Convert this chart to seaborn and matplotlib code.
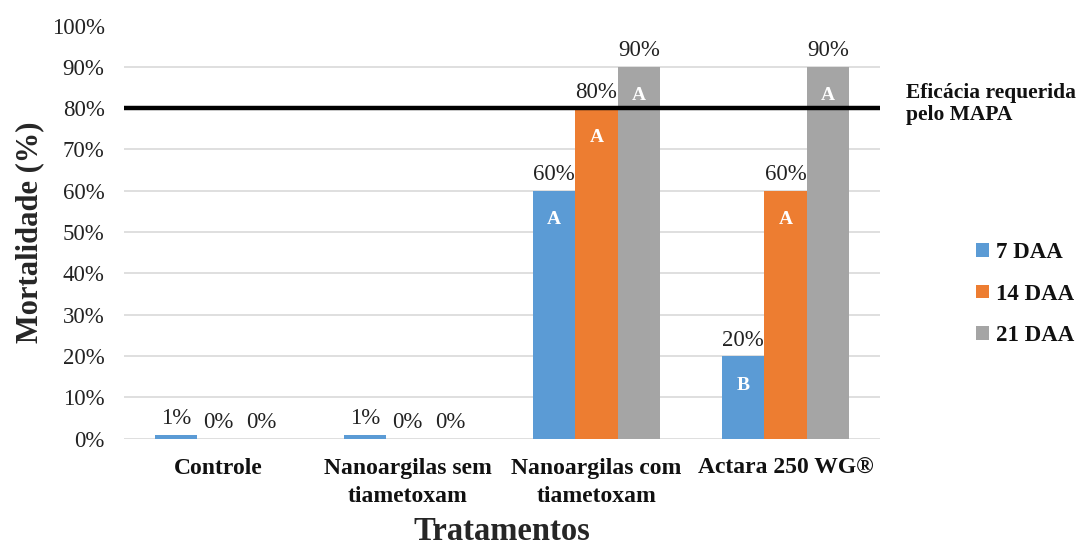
import matplotlib
matplotlib.use("Agg")
import matplotlib.pyplot as plt
import seaborn as sns
import pandas as pd

categories = ["Controle", "Nanoargilas sem\ntiametoxam", "Nanoargilas com\ntiametoxam", "Actara 250 WG®"]
series = ["7 DAA", "14 DAA", "21 DAA"]
values_7 = [1, 1, 60, 20]
values_14 = [0, 0, 80, 60]
values_21 = [0, 0, 90, 90]
letters_7 = ["", "", "A", "B"]
letters_14 = ["", "", "A", "A"]
letters_21 = ["", "", "A", "A"]
threshold = 80
threshold_label = "Eficácia requerida\npelo MAPA"
yticks = [0, 10, 20, 30, 40, 50, 60, 70, 80, 90, 100]

colors = ["#5B9BD5", "#ED7D31", "#A5A5A5"]

rows = []
for s, vals in zip(series, [values_7, values_14, values_21]):
    for c, v in zip(categories, vals):
        rows.append({"Tratamento": c, "Serie": s, "Valor": v})
df = pd.DataFrame(rows)

sns.set_theme(style="white")
plt.rcParams["font.family"] = ["Liberation Serif", "DejaVu Serif"]

fig = plt.figure(figsize=(10.82, 5.48), dpi=100)
ax = fig.add_axes([124/1082, 1-438.7/548, (880-124)/1082, (438.7-25.5)/548])

sns.barplot(data=df, x="Tratamento", y="Valor", hue="Serie", order=categories,
            hue_order=series, palette=colors, width=0.675, gap=0, ax=ax,
            saturation=1, errorbar=None, zorder=2, linewidth=0, edgecolor="none")

ax.set_ylim(0, 100)
ax.set_yticks(yticks)
ax.set_yticklabels([f"{t}%" for t in yticks], fontsize=16.5, color="#222222")
ax.yaxis.grid(True, color="#D9D9D9", linewidth=1.2, zorder=0)
ax.set_axisbelow(True)
for sp in ax.spines.values():
    sp.set_visible(False)
ax.tick_params(axis="y", length=0, pad=14)
ax.tick_params(axis="x", length=0, pad=14)
ax.set_xlim(-0.5, len(categories) - 0.5)
for lbl in ax.get_xticklabels():
    lbl.set_fontsize(17)
    lbl.set_fontweight("bold")
    lbl.set_color("#111111")
    lbl.set_linespacing(1.45)

ax.set_xlabel("Tratamentos", fontsize=23.5, fontweight="bold", labelpad=6)
ax.set_ylabel("Mortalidade (%)", fontsize=22, fontweight="bold", labelpad=5)

all_letters = [letters_7, letters_14, letters_21]
for cont, lets in zip(ax.containers, all_letters):
    ax.bar_label(cont, labels=[f"{v:.0f}%" for v in cont.datavalues],
                 fontsize=16.5, color="#222222", padding=4)
    for bar, let in zip(cont, lets):
        if let:
            ax.annotate(let, (bar.get_x() + bar.get_width()/2, bar.get_height()),
                        xytext=(0, -21), textcoords="offset points",
                        ha="center", va="center", color="white",
                        fontsize=14, fontweight="bold", zorder=5)

ax.axhline(threshold, color="black", linewidth=3.2, zorder=3)
ax.text(1.035, threshold + 1.0, threshold_label, transform=ax.get_yaxis_transform(),
        ha="left", va="center", fontsize=15.5, fontweight="bold", color="#111111",
        linespacing=1.1)

leg = ax.legend(loc="center left", bbox_to_anchor=(1.10, 0.35), frameon=False,
                prop={"size": 16.5, "weight": "bold"}, handlelength=0.55,
                handleheight=0.55, handletextpad=0.3, labelspacing=0.9)
for t in leg.get_texts():
    t.set_color("#111111")

fig.savefig("out.png", dpi=100)
